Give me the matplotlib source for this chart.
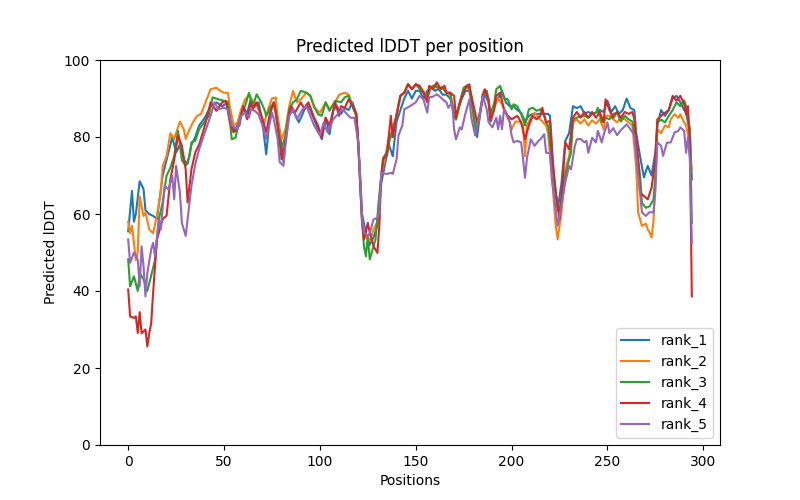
import matplotlib
matplotlib.use('Agg')
import matplotlib.pyplot as plt

# values (position, predicted lDDT)
rank_1_pos = [0, 2, 3, 4, 6, 8, 9, 11, 13, 15, 18, 21, 23, 25, 27, 29, 31, 33, 35, 37, 40, 43, 46, 49, 52, 54, 56, 58, 60, 62, 64, 66, 68, 70, 72, 74, 76, 78, 80, 81, 83, 85, 87, 89, 91, 93, 95, 97, 99, 101, 103, 105, 107, 109, 111, 113, 115, 117, 119, 121, 122, 124, 126, 128, 130, 132, 134, 136, 138, 140, 142, 144, 146, 148, 150, 152, 154, 156, 158, 160, 162, 164, 166, 168, 170, 172, 174, 176, 178, 180, 182, 184, 186, 188, 189, 191, 193, 195, 197, 199, 201, 203, 205, 207, 209, 211, 213, 215, 217, 219, 220, 221, 222, 224, 226, 228, 230, 232, 234, 236, 238, 240, 242, 244, 246, 248, 250, 252, 254, 256, 258, 260, 262, 264, 265, 267, 269, 271, 273, 275, 276, 278, 280, 282, 284, 286, 288, 290, 291, 293, 294]
rank_1_plddt = [55.5, 66, 58, 60, 68.5, 66.5, 61, 60, 59.5, 58.7, 70, 76, 80, 76, 78, 74, 73, 78, 80, 83, 85, 88, 89, 88, 89, 83, 81.5, 85, 88, 86, 90, 88, 89, 84, 75.5, 86, 89, 85, 78, 73.5, 84, 87, 86, 83.8, 86, 88.5, 87, 84.6, 82, 79.4, 85, 80.7, 87, 88, 86, 87.5, 87, 89, 86, 70, 60, 55, 52, 54, 57, 68, 73, 78, 75, 84, 87, 90, 92, 90, 92, 92, 90, 92, 93, 92, 92.5, 91, 91, 90, 86, 87, 90, 92, 92, 86, 80, 88, 91, 89, 84, 88, 90, 92, 89, 88, 88, 87, 86.3, 84, 85.5, 86, 86, 86, 86, 86, 85.5, 78, 70, 61, 68, 79, 81, 88, 87.5, 88, 86, 86.5, 86, 86.3, 87, 86.5, 89.4, 86.5, 88, 86, 87, 90, 87.5, 87, 81, 75, 69.5, 72.5, 70, 76, 83, 87, 85.5, 87, 90, 90.7, 89, 87, 86.3, 81, 69]

rank_2_pos = [0, 1, 2, 4, 5, 6, 8, 9, 11, 13, 15, 17, 18, 20, 22, 24, 27, 29, 30, 32, 34, 36, 38, 41, 43, 46, 48, 50, 52, 53, 55, 57, 59, 61, 63, 65, 67, 69, 71, 73, 75, 77, 78, 80, 82, 84, 86, 88, 90, 93, 95, 97, 100, 103, 105, 108, 110, 113, 115, 117, 119, 120, 121, 122, 124, 126, 128, 130, 132, 134, 136, 138, 140, 142, 144, 146, 148, 150, 152, 154, 156, 158, 160, 162, 164, 166, 168, 170, 171, 173, 175, 177, 179, 181, 183, 185, 187, 189, 191, 193, 195, 197, 199, 200, 202, 204, 206, 207, 208, 210, 212, 214, 216, 218, 219, 221, 223, 224, 226, 228, 230, 232, 234, 236, 238, 240, 242, 244, 246, 248, 249, 251, 253, 255, 257, 259, 261, 263, 265, 266, 268, 270, 271, 272, 273, 274, 275, 276, 278, 280, 282, 283, 285, 287, 288, 290, 291, 292, 293, 294]
rank_2_plddt = [58, 55, 57, 48, 50, 64.5, 59.5, 60.4, 56, 55, 59.6, 65.6, 72.5, 75, 81, 79.5, 84, 82, 79.5, 82, 84, 85.5, 86, 89.8, 92.4, 92.8, 92, 91.5, 91.5, 88, 83, 83.8, 87.2, 89.8, 90.7, 89.4, 88.5, 85.5, 83.8, 87.2, 90, 90.3, 84.6, 79.4, 82, 88, 92, 89, 89.8, 91.5, 90.7, 87.6, 86.3, 89, 87.2, 89, 91, 91.5, 91, 88, 85.5, 78.6, 68, 58, 54, 53, 56, 58, 70, 74.6, 80, 80, 85.5, 90.7, 91.5, 93.7, 92.4, 93.7, 93, 92, 90, 93, 93, 93, 92.5, 91.5, 91, 85, 84.6, 89, 92.5, 93, 90.7, 82, 85, 91, 92, 86, 88, 90, 88.5, 86.3, 84, 82, 84, 84, 83, 75, 83, 85, 86.3, 85, 84, 83, 81, 70, 57, 53.4, 60.4, 71.6, 75, 83.8, 84.6, 83.5, 84.6, 83, 84.3, 83.5, 84.6, 82, 85.5, 85.5, 84.6, 83.8, 85, 84.6, 83.8, 83, 72, 60.4, 56.9, 57.5, 56, 55.2, 53.9, 58, 69, 82, 81, 83, 82.5, 84.6, 85.9, 85, 85.9, 83.8, 83, 80.7, 75, 71.6]

rank_3_pos = [0, 1, 3, 5, 6, 8, 10, 12, 14, 16, 18, 20, 22, 24, 26, 28, 30, 32, 33, 35, 37, 40, 42, 44, 47, 50, 52, 53, 54, 56, 59, 61, 63, 65, 67, 69, 71, 72, 74, 76, 78, 80, 82, 84, 86, 88, 90, 93, 95, 97, 99, 101, 103, 105, 108, 111, 113, 115, 117, 119, 120, 121, 122, 123, 124, 125, 126, 128, 129, 131, 133, 135, 137, 139, 140, 142, 144, 146, 148, 150, 152, 154, 156, 158, 160, 162, 164, 166, 168, 170, 171, 173, 175, 177, 179, 181, 183, 185, 187, 189, 191, 192, 194, 196, 198, 200, 201, 203, 205, 207, 209, 211, 213, 215, 217, 218, 219, 221, 223, 225, 226, 228, 230, 231, 232, 234, 236, 238, 240, 242, 244, 245, 247, 249, 251, 253, 255, 257, 259, 261, 263, 265, 267, 268, 270, 272, 274, 275, 276, 278, 280, 282, 284, 286, 288, 290, 291, 293, 294]
rank_3_plddt = [48.2, 41.2, 43.8, 40, 44.7, 43, 40, 44, 48, 58.7, 63, 69.9, 72, 75, 81.6, 74, 72.5, 75, 78.6, 79, 82, 84, 85.5, 90.3, 89.8, 89.4, 89, 84.6, 79.4, 79.8, 86.3, 88, 91.5, 88, 91.1, 89.4, 87.2, 85.5, 87.5, 89, 83, 76.8, 80.4, 87.2, 89, 89.8, 92, 91.5, 90.7, 88, 85.9, 85.5, 89, 86.8, 89.4, 89, 90.3, 90.7, 88, 85.5, 78, 68, 58, 51.6, 49, 54.3, 48.2, 51.6, 53.4, 65, 74.6, 76, 80.4, 84, 85.5, 90.7, 91.5, 93.7, 92.4, 93.7, 92.5, 91.5, 90.5, 93, 93.5, 92.5, 93, 91.5, 91.5, 86, 84.5, 89, 92.8, 93.5, 90.5, 82, 84, 91, 92, 86, 89, 92.4, 93.3, 90, 89.8, 87.2, 88.5, 88, 85.9, 83, 87.2, 87.6, 86.8, 87.2, 85.5, 83.8, 83, 74.2, 65.5, 60.4, 64.7, 69.9, 74.2, 75.9, 84.6, 85, 85.5, 85.5, 85, 86, 86.3, 87.6, 83.8, 85, 84.6, 86, 86.3, 84, 85.5, 84.6, 84, 78, 70, 62.9, 61.6, 62, 63.8, 70, 83.8, 84.5, 83.8, 85.5, 87, 89, 88, 89.5, 88, 82, 57.7]

rank_4_pos = [0, 1, 3, 4, 5, 6, 7, 9, 10, 11, 12, 13, 15, 17, 18, 20, 22, 24, 26, 28, 30, 31, 33, 35, 37, 40, 43, 46, 49, 51, 53, 55, 58, 60, 62, 64, 65, 67, 69, 71, 72, 74, 76, 77, 79, 80, 82, 84, 85, 87, 90, 92, 94, 97, 99, 101, 103, 105, 108, 110, 111, 113, 115, 117, 119, 120, 121, 122, 123, 125, 126, 128, 130, 131, 132, 133, 135, 137, 138, 140, 142, 144, 146, 148, 150, 152, 154, 156, 157, 159, 161, 163, 165, 166, 168, 170, 171, 172, 174, 176, 178, 179, 181, 182, 184, 185, 186, 188, 189, 191, 192, 194, 196, 198, 200, 203, 205, 207, 209, 211, 213, 215, 216, 218, 220, 221, 223, 225, 226, 228, 230, 232, 234, 236, 238, 240, 242, 244, 246, 248, 249, 251, 253, 255, 257, 259, 261, 263, 264, 266, 267, 269, 271, 273, 275, 276, 278, 280, 282, 284, 286, 288, 290, 291, 292, 293, 294]
rank_4_plddt = [40.4, 33.4, 33, 33.4, 29.1, 34.5, 29, 30, 25.6, 29, 31.6, 39.5, 53.4, 56.9, 58.7, 59.5, 69, 74, 80.4, 77.7, 71.6, 63, 71.6, 76, 78, 83, 89, 86.8, 89, 89.4, 83.8, 81.2, 83, 88, 84.6, 89, 87.2, 89, 86.3, 83, 81.2, 86.3, 89, 86.3, 78.6, 74.2, 78.6, 86.3, 88, 86.3, 89, 87.2, 89, 85, 83, 79.8, 85, 83, 89, 85.5, 88, 87.6, 89.8, 88, 86, 79, 68, 58, 53.4, 57.7, 55.2, 51.6, 49.9, 56.9, 69.9, 74.2, 75.5, 85.5, 80, 86, 90.7, 91.5, 93.7, 92.4, 93.7, 93.3, 91.5, 89, 93.3, 92.4, 94.2, 92.4, 93.3, 91.5, 91.5, 90.7, 85, 87.2, 90.3, 92.8, 93.7, 90.7, 86.3, 83.8, 87.2, 91.1, 92.4, 89.8, 84.2, 87.2, 90.7, 91.5, 87.2, 85.5, 84.6, 85.5, 83.8, 79.4, 83, 85.5, 84.6, 85.5, 87.6, 83.8, 84.2, 75.9, 65.5, 58.6, 63.8, 78.6, 76.8, 85, 86.5, 85, 86.5, 85, 86.5, 85, 86.5, 83.8, 89.8, 87, 85, 86.5, 85, 86.5, 86, 86.5, 84.6, 74.2, 65.5, 64.7, 63.8, 66.8, 74.2, 84.6, 85.5, 86.3, 87, 90.7, 89.4, 90.7, 88.5, 85.9, 88, 78, 38.6]

rank_5_pos = [0, 1, 3, 5, 6, 7, 8, 9, 10, 12, 13, 14, 16, 17, 19, 21, 23, 24, 25, 27, 28, 30, 31, 33, 35, 37, 40, 43, 45, 47, 50, 52, 54, 57, 59, 61, 63, 64, 66, 68, 70, 72, 75, 76, 78, 79, 81, 82, 84, 86, 88, 91, 93, 95, 97, 100, 102, 104, 107, 110, 112, 114, 116, 118, 120, 121, 122, 123, 125, 126, 128, 130, 131, 132, 135, 137, 138, 140, 141, 143, 144, 147, 150, 152, 154, 156, 157, 159, 161, 163, 164, 166, 167, 169, 170, 171, 173, 174, 176, 178, 179, 181, 183, 185, 187, 188, 190, 192, 193, 194, 195, 196, 198, 199, 200, 201, 203, 205, 206, 207, 208, 210, 212, 214, 215, 217, 218, 220, 221, 223, 224, 226, 228, 230, 231, 233, 234, 236, 238, 239, 240, 242, 244, 245, 247, 248, 250, 251, 253, 255, 257, 259, 260, 262, 264, 265, 267, 268, 270, 272, 274, 275, 276, 278, 279, 281, 283, 285, 287, 288, 290, 291, 292, 293, 294]
rank_5_plddt = [53.4, 47.3, 50, 48.2, 41.2, 51.6, 46.5, 38.6, 44.7, 50.8, 52.5, 49.1, 58.7, 56, 67.3, 66.4, 69.9, 63.8, 72.5, 65.5, 57.7, 54.3, 58.7, 67.3, 73, 76.8, 81.2, 85.5, 89, 87.2, 87.6, 87.2, 83, 82, 85.5, 86.3, 85, 87.2, 86.8, 85.9, 83, 79.5, 86.3, 84.6, 79.4, 73.5, 72.5, 77.7, 85.5, 87.2, 84.6, 87.2, 88, 85.5, 83, 80.4, 83.8, 81.2, 84.6, 86.3, 87.2, 86, 85, 85, 78.6, 69.9, 58.6, 55.2, 54.3, 55, 58.6, 59, 60.4, 70.7, 70.4, 70.7, 70.4, 74.2, 80.4, 83, 87.2, 88, 89, 90.7, 89.8, 86.3, 90.3, 90.5, 91.1, 90.3, 89.8, 89, 87.6, 89, 82, 79.4, 82.5, 82, 86.3, 89.8, 85, 80.4, 85, 90.7, 87.2, 83.8, 82.5, 85, 82, 85.5, 82, 87.2, 85, 83.8, 80.4, 78.6, 79, 78.6, 74.2, 69.4, 74.5, 79.4, 77.7, 79, 79.4, 80.7, 75.9, 75.9, 69, 61.2, 56.9, 62.1, 68.2, 72.5, 71.6, 77.7, 79.4, 79.5, 78.6, 79, 75.9, 79.8, 78.6, 81.6, 78.6, 80.5, 83.8, 81, 82.3, 80.5, 81.8, 82.8, 83.3, 82, 80.5, 75, 65.5, 60.4, 59.5, 60.5, 60.4, 66, 78.6, 77.7, 75.1, 78.5, 78.6, 81.2, 81.6, 82.5, 81.6, 75.9, 80, 74, 52.5]

ranks = ['rank_1', 'rank_2', 'rank_3', 'rank_4', 'rank_5']
positions = [rank_1_pos, rank_2_pos, rank_3_pos, rank_4_pos, rank_5_pos]
plddts = [rank_1_plddt, rank_2_plddt, rank_3_plddt, rank_4_plddt, rank_5_plddt]

fig, ax = plt.subplots(figsize=(8, 5), dpi=100)
for name, x, y in zip(ranks, positions, plddts):
    ax.plot(x, y, label=name)

ax.set_ylim(0, 100)
ax.set_title('Predicted lDDT per position')
ax.set_xlabel('Positions')
ax.set_ylabel('Predicted lDDT')
ax.legend(loc='lower right')

fig.savefig('out.png')
